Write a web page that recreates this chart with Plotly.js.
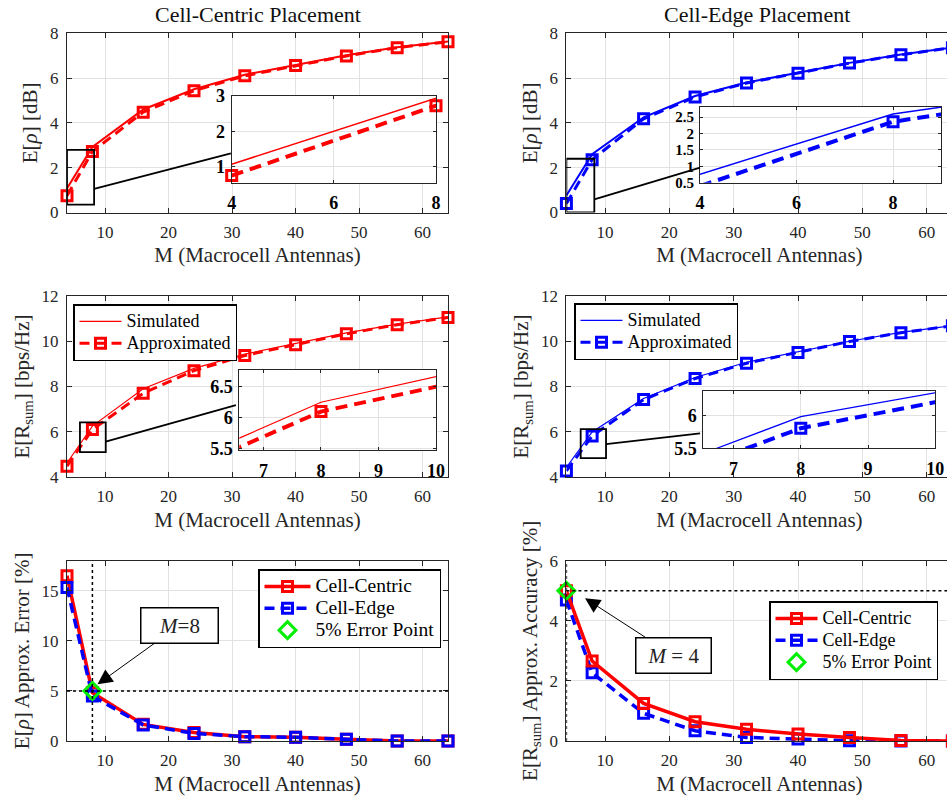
<!DOCTYPE html>
<html><head><meta charset="utf-8">
<script src="https://cdn.plot.ly/plotly-3.0.1.min.js"></script>
<style>html,body{margin:0;padding:0;background:#fff;overflow:hidden}</style>
</head><body>
<div id="chart" style="width:953px;height:804px"></div>
<script>
// ---------------- data ----------------
const M = [4, 8, 16, 24, 32, 40, 48, 56, 64];
const xTicks = [10, 20, 30, 40, 50, 60];

// E[rho] [dB]
const rhoSimCentric = [1.07, 2.93, 4.6, 5.5, 6.15, 6.6, 7.02, 7.38, 7.63];
const rhoApxCentric = [0.75, 2.72, 4.48, 5.44, 6.1, 6.56, 6.99, 7.36, 7.62];
const rhoSimEdge    = [0.76, 2.6, 4.25, 5.2, 5.8, 6.25, 6.68, 7.05, 7.37];
const rhoApxEdge    = [0.4, 2.36, 4.18, 5.16, 5.78, 6.22, 6.67, 7.04, 7.36];

// E[Rsum] [bps/Hz]
const rateSimCentric = [4.62, 6.25, 7.9, 8.8, 9.43, 9.9, 10.37, 10.76, 11.08];
const rateApxCentric = [4.48, 6.1, 7.7, 8.7, 9.37, 9.85, 10.33, 10.73, 11.05];
const rateSimEdge    = [4.42, 5.99, 7.47, 8.4, 9.07, 9.53, 10.0, 10.39, 10.69];
const rateApxEdge    = [4.27, 5.81, 7.42, 8.35, 9.03, 9.5, 9.99, 10.38, 10.68];

// approximation error / accuracy [%]
const rhoErrCentric  = [16.5, 4.82, 1.66, 0.86, 0.43, 0.37, 0.17, 0, 0];
const rhoErrEdge     = [15.33, 4.49, 1.6, 0.76, 0.43, 0.37, 0.17, 0, 0];
const rateAccCentric = [5.0, 2.66, 1.25, 0.64, 0.39, 0.23, 0.12, 0.02, 0];
const rateAccEdge    = [4.69, 2.27, 0.92, 0.34, 0.12, 0.07, 0.01, 0, 0];

const errThreshold = 5;
const rhoPointM = [8];   const rhoPointV = [5];
const ratePointM = [4];  const ratePointV = [5];

// tick labels
const rhoTicks = [0, 2, 4, 6, 8];
const rateTicks = [4, 6, 8, 10, 12];
const errTicks = [0, 5, 10, 15];
const accTicks = [0, 2, 4, 6];
const insetRhoCX = [4, 6, 8], insetRhoCY = [1, 2, 3];
const insetRhoEX = [4, 6, 8], insetRhoEY = [0.5, 1, 1.5, 2, 2.5];
const insetRateX = [7, 8, 9, 10], insetRateCY = [5.5, 6, 6.5], insetRateEY = [5.5, 6];

// ---------------- styling helpers ----------------
const W = 953, H = 804;
const px = v => v / W;
const py = v => 1 - v / H;
const FONT = 'Liberation Serif, Times New Roman, serif';
const AX = '#262626';
const GRID = '#e2e2e2';
const RED = '#ff0000', BLUE = '#0000ff', GREEN = '#00ee00';
const DASH = '10px,6px';
const lg = (s, fs) => '<span style="font-family:Liberation Serif,serif;font-size:' + (fs || 18) + 'px">' + s + '</span>';

function sq(color){ return {symbol:'square-open', size:10, color:color, line:{width:3, color:color}}; }

const traces = [];
function simT(x, y, xa, ya, color, w, extra){ return Object.assign({type:'scatter', mode:'lines', x:x, y:y, xaxis:xa, yaxis:ya, line:{color:color, width:w}, showlegend:false, cliponaxis:false, hoverinfo:'skip'}, extra||{}); }
function apxT(x, y, xa, ya, color, extra){ return Object.assign({type:'scatter', mode:'lines+markers', x:x, y:y, xaxis:xa, yaxis:ya, line:{color:color, width:3, dash:DASH}, marker:sq(color), showlegend:false, cliponaxis:false, hoverinfo:'skip'}, extra||{}); }

// top row
traces.push(simT(M, rhoSimCentric, 'x', 'y', RED, 2));
traces.push(apxT(M, rhoApxCentric, 'x', 'y', RED));
traces.push(simT(M, rhoSimEdge, 'x2', 'y2', BLUE, 2));
traces.push(apxT(M, rhoApxEdge, 'x2', 'y2', BLUE));
// middle row
traces.push(simT(M, rateSimCentric, 'x3', 'y3', RED, 1.2, {name:lg('Simulated'), showlegend:true, legend:'legend'}));
traces.push(apxT(M, rateApxCentric, 'x3', 'y3', RED, {name:lg('Approximated'), showlegend:true, legend:'legend'}));
traces.push(simT(M, rateSimEdge, 'x4', 'y4', BLUE, 1.2, {name:lg('Simulated'), showlegend:true, legend:'legend2'}));
traces.push(apxT(M, rateApxEdge, 'x4', 'y4', BLUE, {name:lg('Approximated'), showlegend:true, legend:'legend2'}));
// bottom row
traces.push({type:'scatter', mode:'lines+markers', x:M, y:rhoErrCentric, xaxis:'x5', yaxis:'y5', name:lg('Cell-Centric', 19.5), legend:'legend3', legendrank:1, line:{color:RED, width:3.5}, marker:sq(RED), cliponaxis:false});
traces.push({type:'scatter', mode:'lines+markers', x:M, y:rhoErrEdge, xaxis:'x5', yaxis:'y5', name:lg('Cell-Edge', 19.5), legend:'legend3', legendrank:2, line:{color:BLUE, width:3.5, dash:DASH}, marker:sq(BLUE), cliponaxis:false});
traces.push({type:'scatter', mode:'markers', x:rhoPointM, y:rhoPointV, xaxis:'x5', yaxis:'y5', name:lg('5% Error Point', 19.5), legend:'legend3', legendrank:3, marker:{symbol:'diamond-open', size:13, color:GREEN, line:{width:3, color:GREEN}}, cliponaxis:false});
traces.push({type:'scatter', mode:'lines+markers', x:M, y:rateAccEdge, xaxis:'x6', yaxis:'y6', name:lg('Cell-Edge'), legend:'legend4', legendrank:2, line:{color:BLUE, width:3.5, dash:DASH}, marker:sq(BLUE), cliponaxis:false});
traces.push({type:'scatter', mode:'lines+markers', x:M, y:rateAccCentric, xaxis:'x6', yaxis:'y6', name:lg('Cell-Centric'), legend:'legend4', legendrank:1, line:{color:RED, width:3.5}, marker:sq(RED), cliponaxis:false});
traces.push({type:'scatter', mode:'markers', x:ratePointM, y:ratePointV, xaxis:'x6', yaxis:'y6', name:lg('5% Error Point'), legend:'legend4', legendrank:3, marker:{symbol:'diamond-open', size:13, color:GREEN, line:{width:3, color:GREEN}}, cliponaxis:false});
// insets
traces.push(simT(M, rhoSimCentric, 'x7', 'y7', RED, 1.5));
traces.push(apxT(M, rhoApxCentric, 'x7', 'y7', RED, {line:{color:RED, width:4, dash:'12px,7px'}}));
traces.push(simT(M, rhoSimEdge, 'x8', 'y8', BLUE, 1.5));
traces.push(apxT(M, rhoApxEdge, 'x8', 'y8', BLUE, {line:{color:BLUE, width:4, dash:'12px,7px'}}));
traces.push(simT(M, rateSimCentric, 'x9', 'y9', RED, 1.2));
traces.push(apxT(M, rateApxCentric, 'x9', 'y9', RED, {line:{color:RED, width:4, dash:'12px,7px'}}));
traces.push(simT(M, rateSimEdge, 'x10', 'y10', BLUE, 1.2));
traces.push(apxT(M, rateApxEdge, 'x10', 'y10', BLUE, {line:{color:BLUE, width:4, dash:'12px,7px'}}));

// ---------------- axes ----------------
const tickFont = {family:FONT, size:17, color:AX};
const titleFont = {family:FONT, size:21, color:AX};
function mainX(dom, anchor){
  return {domain:dom, anchor:anchor, range:[4,64], tickvals:xTicks, ticks:'inside', ticklen:5, tickcolor:AX,
    showline:true, linecolor:AX, linewidth:1, mirror:'ticks', showgrid:true, gridcolor:GRID, zeroline:false,
    tickfont:tickFont, ticklabelstandoff:4, title:{text:'M (Macrocell Antennas)', font:titleFont, standoff:6}};
}
function mainY(dom, anchor, range, tv, title){
  return {domain:dom, anchor:anchor, range:range, tickvals:tv, ticks:'inside', ticklen:5, tickcolor:AX,
    showline:true, linecolor:AX, linewidth:1, mirror:'ticks', showgrid:true, gridcolor:GRID, zeroline:false,
    tickfont:tickFont, ticklabelstandoff:4, title:{text:title, font:titleFont, standoff:6}};
}
const insetFont = {family:FONT, size:18, color:'#000', weight:'bold'};
function insX(dom, anchor, range, tv){
  return {domain:dom, anchor:anchor, range:range, tickvals:tv, ticks:'inside', ticklen:3, tickcolor:AX,
    showline:true, linecolor:AX, linewidth:1, mirror:'ticks', showgrid:true, gridcolor:GRID, zeroline:false,
    tickfont:insetFont, ticklabelstandoff:4};
}
function insY(dom, anchor, range, tv, fs){
  return {domain:dom, anchor:anchor, range:range, tickvals:tv, ticks:'inside', ticklen:3, tickcolor:AX,
    showline:true, linecolor:AX, linewidth:1, mirror:'ticks', showgrid:true, gridcolor:GRID, zeroline:false,
    tickfont:Object.assign({}, insetFont, {size:fs||18}), ticklabelstandoff:2};
}

const colL = [px(67), px(448)], colR = [px(566.4), px(952.4)];
const rowT = [py(212.5), py(33.3)], rowM = [py(477), py(296)], rowB = [py(741), py(560.7)];

const rhoTitle = 'E[<i>ρ</i>] [dB]';
const rateTitle = 'E[R<sub>sum</sub>] [bps/Hz]';

function legendBox(x, y, iw){
  return {x:px(x), y:py(y), xanchor:'left', yanchor:'top', xref:'paper', yref:'paper', bgcolor:'#ffffff',
    bordercolor:'#000', borderwidth:1.5, font:{family:FONT, size:14.5, color:'#000'}, itemwidth:iw||42, tracegroupgap:0};
}

// zoom boxes and connector lines
function rect(xa, ya, x0, x1, y0, y1){ return {type:'rect', xref:xa, yref:ya, x0:x0, x1:x1, y0:y0, y1:y1, line:{color:'#000', width:1.8}, layer:'above'}; }
function seg(xa, ya, x0, y0, x1, y1){ return {type:'line', xref:xa, yref:ya, x0:x0, y0:y0, x1:x1, y1:y1, line:{color:'#000', width:1.8}, layer:'above'}; }
function dotH(xa, ya, v){ return {type:'line', xref:xa+' domain', yref:ya, x0:0, x1:1, y0:v, y1:v, line:{color:'#000', width:1.5, dash:'dot'}, layer:'above'}; }
function dotV(xa, ya, v){ return {type:'line', xref:xa, yref:ya+' domain', x0:v, x1:v, y0:0, y1:1, line:{color:'#000', width:1.5, dash:'dot'}, layer:'above'}; }

const layout = {
  width:W, height:H, margin:{l:0, r:0, t:0, b:0}, paper_bgcolor:'#fff', plot_bgcolor:'#fff',
  font:{family:FONT, color:AX}, hovermode:false,
  xaxis: mainX(colL, 'y'),  yaxis: mainY(rowT, 'x', [0,8], rhoTicks, rhoTitle),
  xaxis2: mainX(colR, 'y2'), yaxis2: mainY(rowT, 'x2', [0,8], rhoTicks, rhoTitle),
  xaxis3: mainX(colL, 'y3'), yaxis3: mainY(rowM, 'x3', [4,12], rateTicks, rateTitle),
  xaxis4: mainX(colR, 'y4'), yaxis4: mainY(rowM, 'x4', [4,12], rateTicks, rateTitle),
  xaxis5: mainX(colL, 'y5'), yaxis5: mainY(rowB, 'x5', [0,18], errTicks, 'E[<i>ρ</i>] Approx. Error [%]'),
  xaxis6: mainX(colR, 'y6'), yaxis6: mainY(rowB, 'x6', [0,6], accTicks, 'E[R<sub>sum</sub>] Approx. Accuracy [%]'),
  xaxis7: insX([px(231.7), px(436)], 'y7', [4,8], insetRhoCX),
  yaxis7: insY([py(182.7), py(95.7)], 'x7', [0.55,3], insetRhoCY),
  xaxis8: insX([px(700), px(941.3)], 'y8', [4,9], insetRhoEX),
  yaxis8: insY([py(182.7), py(106.7)], 'x8', [0.5,2.82], insetRhoEY, 15),
  xaxis9: insX([px(239.3), px(436)], 'y9', [6.58,10], insetRateX),
  yaxis9: insY([py(450), py(370)], 'x9', [5.48,6.77], insetRateCY),
  xaxis10: insX([px(703.3), px(935.3)], 'y10', [6.55,10], insetRateX),
  yaxis10: insY([py(448.3), py(390.7)], 'x10', [5.5,6.39], insetRateEY),
  legend: legendBox(73, 304),
  legend2: legendBox(574, 303),
  legend3: legendBox(258, 569, 46),
  legend4: legendBox(769, 601),
  shapes: [
    rect('x','y', 4, 8.27, 0.35, 2.8), seg('x','y', 8.27, 1.05, 29.8, 2.64),
    rect('x2','y2', 4, 8.34, 0, 2.4), seg('x2','y2', 8.34, 0.59, 24.78, 2.0),
    rect('x3','y3', 6.04, 10.1, 5.1, 6.41), seg('x3','y3', 10.1, 5.56, 30.6, 7.18),
    rect('x4','y4', 6.22, 10.16, 4.83, 6.12), seg('x4','y4', 10.16, 5.45, 24.78, 5.93),
    dotH('x5','y5', errThreshold), dotV('x5','y5', rhoPointM[0]),
    dotH('x6','y6', errThreshold), dotV('x6','y6', ratePointM[0])
  ],
  annotations: [
    {text:'Cell-Centric Placement', xref:'paper', yref:'paper', x:px(258), y:py(15), xanchor:'center', yanchor:'middle', showarrow:false, font:{family:FONT, size:22, color:'#111'}},
    {text:'Cell-Edge Placement', xref:'paper', yref:'paper', x:px(756.7), y:py(15), xanchor:'center', yanchor:'middle', showarrow:false, font:{family:FONT, size:22, color:'#111'}},
    {text:'<i>M</i>=8', xref:'x5', yref:'y5', x:8.8, y:5.66, ax:82, ay:-59, showarrow:true, arrowhead:2, arrowsize:3, arrowwidth:1, arrowcolor:'#000',
      bgcolor:'#fff', bordercolor:'#000', borderwidth:1.5, borderpad:5, font:{family:FONT, size:21, color:'#222'}, width:66},
    {text:'<i>M</i> = 4', xref:'x6', yref:'y6', x:6.9, y:4.75, ax:88, ay:57, showarrow:true, arrowhead:2, arrowsize:3, arrowwidth:1, arrowcolor:'#000',
      bgcolor:'#fff', bordercolor:'#000', borderwidth:1.5, borderpad:5, font:{family:FONT, size:21, color:'#222'}, width:64}
  ]
};

Plotly.newPlot('chart', traces, layout, {staticPlot:true, displayModeBar:false});
</script>
</body></html>
